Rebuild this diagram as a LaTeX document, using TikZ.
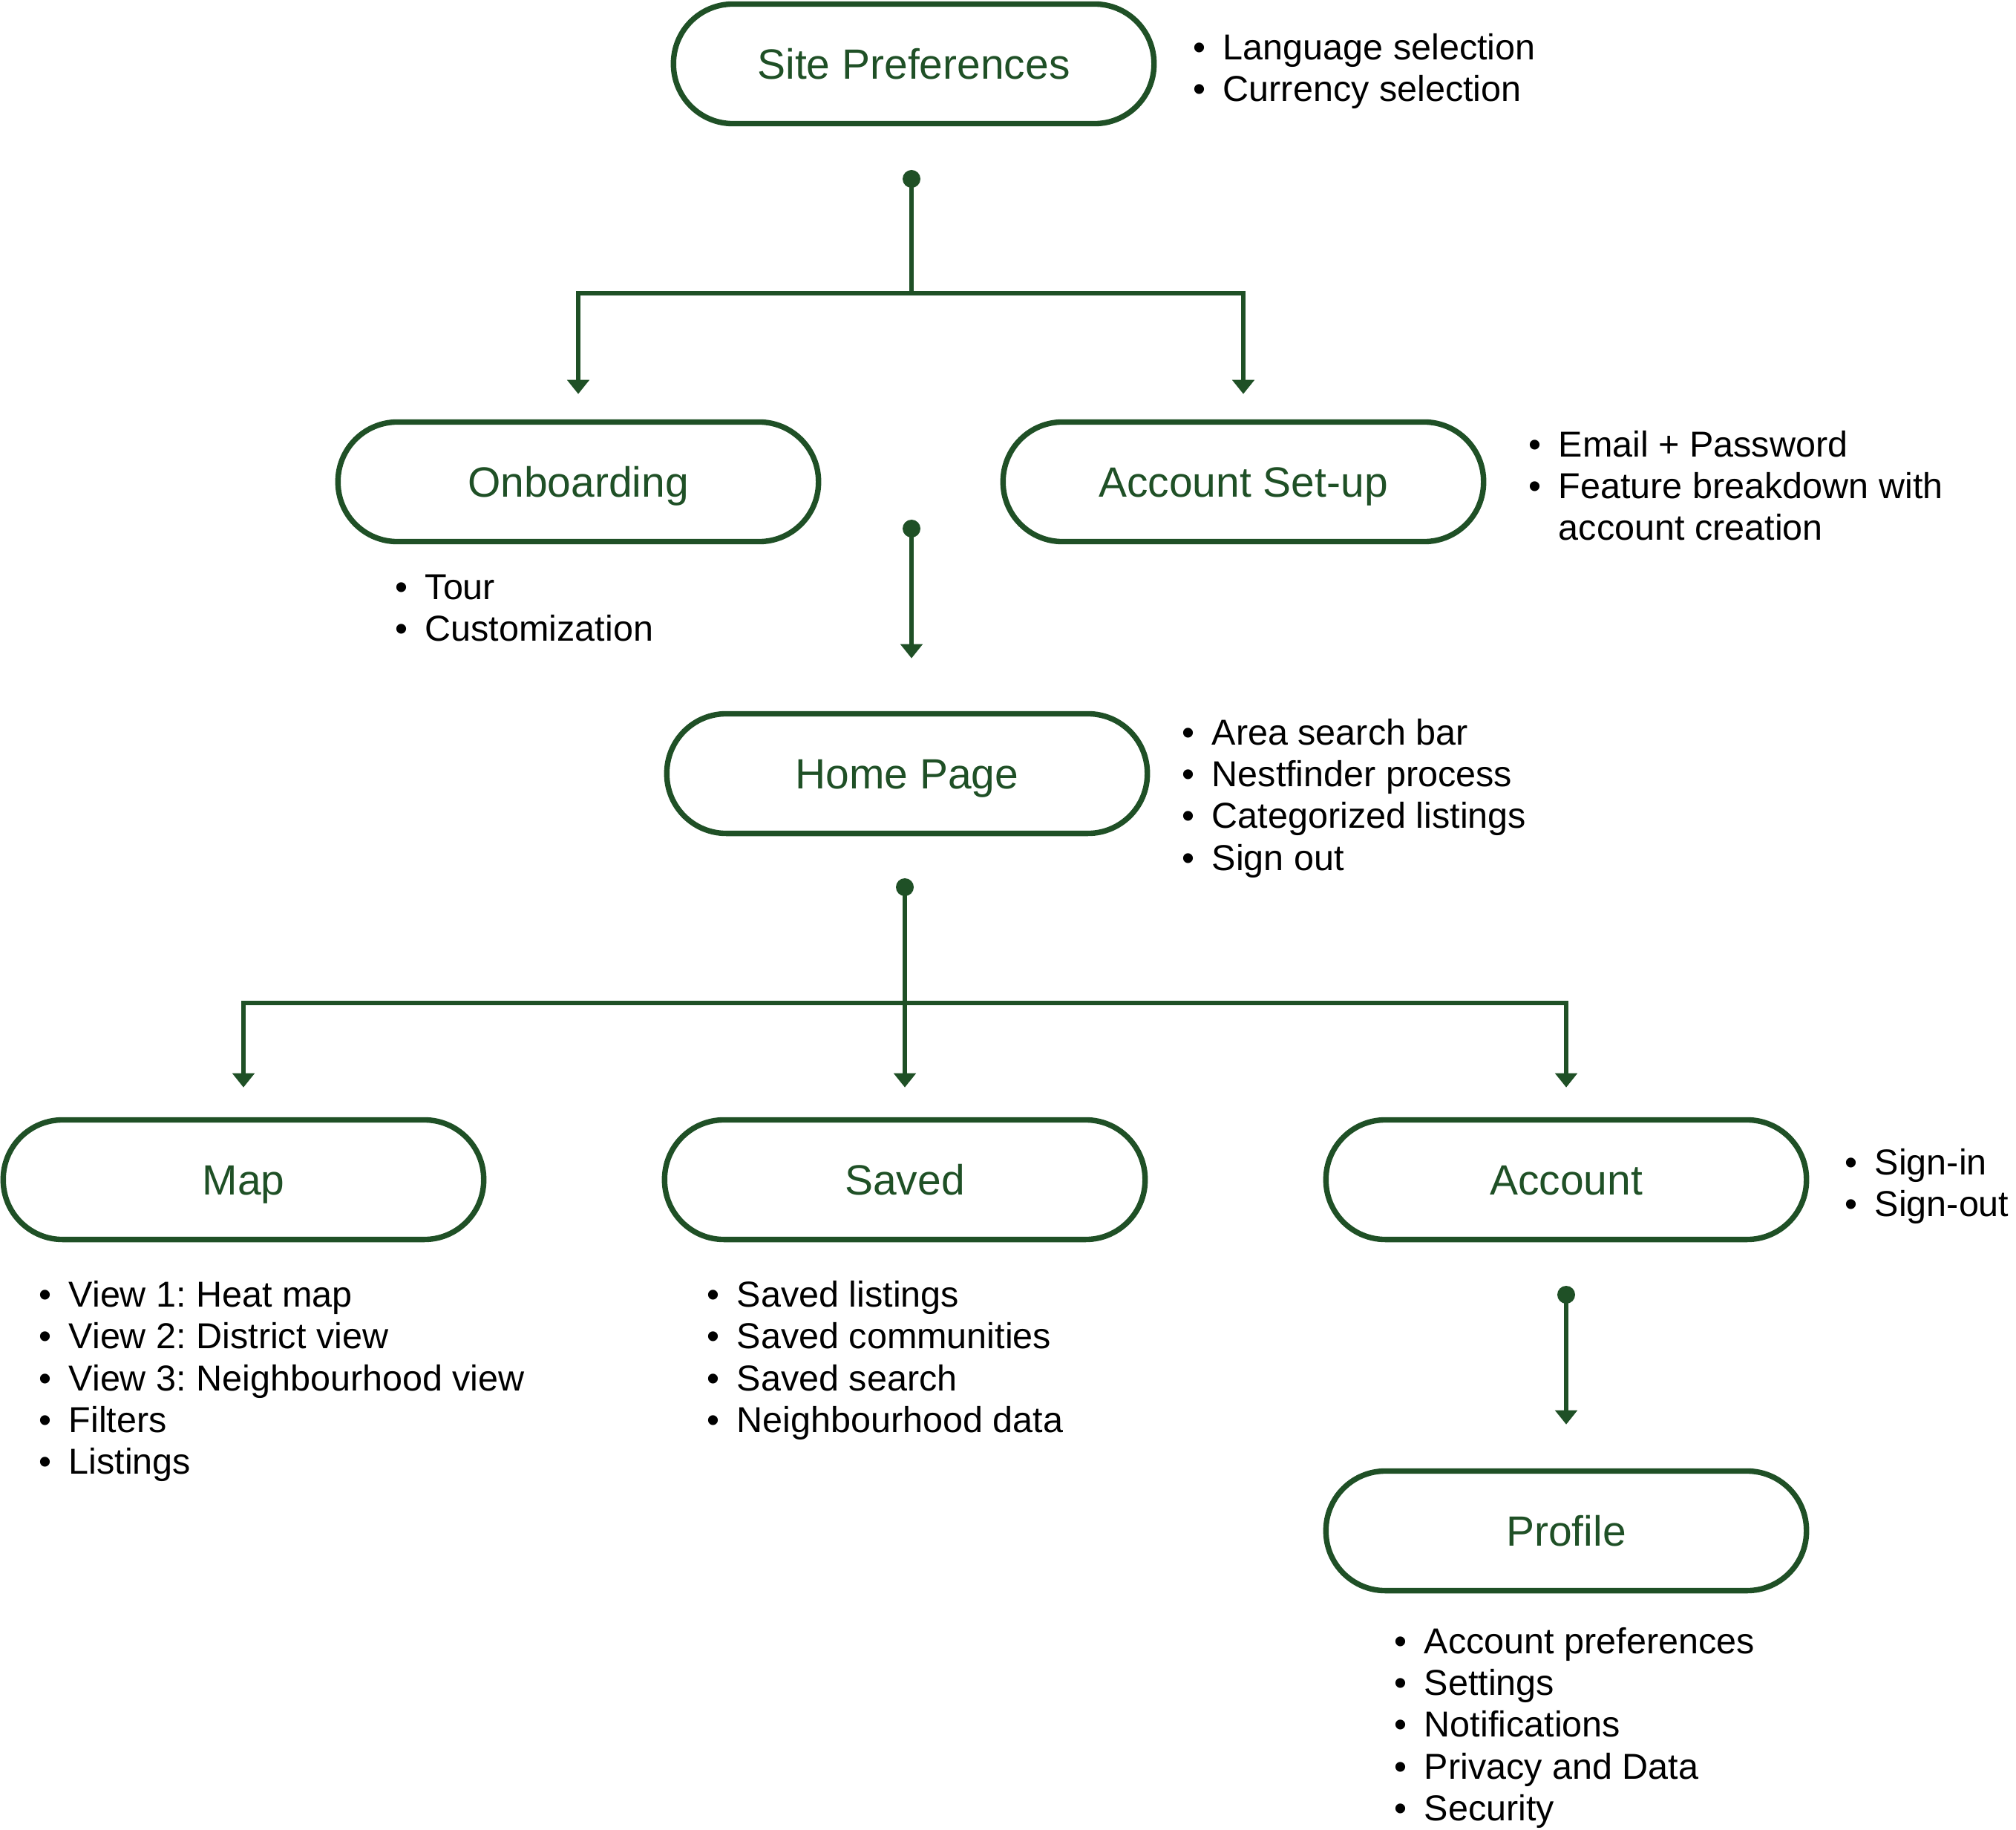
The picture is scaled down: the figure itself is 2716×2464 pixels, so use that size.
\documentclass[tikz,border=0pt]{standalone}
\usepackage{fontspec}
\setmainfont{Liberation Sans}
\usetikzlibrary{arrows.meta}
\definecolor{leaf}{HTML}{1F5026}
\frenchspacing

\tikzset{
    stage/.style={draw=leaf, line width=2.1pt, rounded corners=0.8cm,
        minimum width=6.47cm, minimum height=1.61cm, inner sep=0pt,
        text=leaf, font=\fontsize{16.2pt}{19pt}\selectfont,
        text height=11.6pt, text depth=0pt},
    notes/.style={anchor=north west, align=left, inner sep=0pt,
        font=\fontsize{13.8pt}{15.94pt}\selectfont},
    wire/.style={leaf, line width=1.85pt},
    link/.style={wire, -{Triangle[width=0.29cm,length=0.19cm]}},
}
\newcommand{\bul}{\makebox[0.4cm][l]{\textbullet}}

\begin{document}
\begin{tikzpicture}[x=0.01cm, y=-0.01cm]
    \useasboundingbox (0,0) rectangle (2716,2464);

    % stages
    \node[stage] (prefs) at (1231,86)   {Site Preferences};
    \node[stage] (onb)   at (779,649)   {Onboarding};
    \node[stage] (setup) at (1675,649)  {Account Set-up};
    \node[stage] (home)  at (1222,1042) {Home Page};
    \node[stage] (map)   at (328,1589)  {Map};
    \node[stage] (saved) at (1219,1589) {Saved};
    \node[stage] (acct)  at (2110,1589) {Account};
    \node[stage] (prof)  at (2110,2062) {Profile};

    % feature lists
    \node[notes] (prefs-notes) at (1607,45) {\bul Language selection\\ \bul Currency selection};
    \node[notes] (setup-notes) at (2059,580) {\bul Email + Password\\ \bul Feature breakdown with\\ \hspace*{0.4cm}account creation};
    \node[notes] (onb-notes) at (532,773) {\bul Tour\\ \bul Customization};
    \node[notes] (home-notes) at (1592,968) {\bul Area search bar\\ \bul Nestfinder process\\ \bul Categorized listings\\ \bul Sign out};
    \node[notes] (map-notes) at (52,1725) {\bul View 1: Heat map\\ \bul View 2: District view\\ \bul View 3: Neighbourhood view\\ \bul Filters\\ \bul Listings};
    \node[notes] (saved-notes) at (952,1725) {\bul Saved listings\\ \bul Saved communities\\ \bul Saved search\\ \bul Neighbourhood data};
    \node[notes] (acct-notes) at (2485,1547) {\bul Sign-in\\ \bul Sign-out};
    \node[notes] (prof-notes) at (1878,2192) {\bul Account preferences\\ \bul Settings\\ \bul Notifications\\ \bul Privacy and Data\\ \bul Security};

    % junctions
    \coordinate (prefs-dot) at (1228,241);
    \coordinate (prefs-bar) at (1228,395);
    \coordinate (setup-dot) at (1228,712);
    \coordinate (home-dot)  at (1219,1195);
    \coordinate (home-bar)  at (1219,1351);
    \coordinate (acct-dot)  at (2110,1744);
    \foreach \d in {prefs-dot, setup-dot, home-dot, acct-dot}
        \fill[leaf] (\d) circle[radius=0.12cm];

    % connectors
    \draw[wire] (prefs-dot) -- (prefs-bar);
    \draw[link, shorten >=0.34cm] (prefs-bar) -| (onb.north);
    \draw[link, shorten >=0.34cm] (prefs-bar) -| (setup.north);
    \draw[link, shorten >=0.71cm] (setup-dot) -- (setup-dot |- home.north);
    \draw[link, shorten >=0.40cm] (home-dot) -- (saved.north);
    \draw[link, shorten >=0.40cm] (home-bar) -| (map.north);
    \draw[link, shorten >=0.40cm] (home-bar) -| (acct.north);
    \draw[link, shorten >=0.59cm] (acct-dot) -- (prof.north);
\end{tikzpicture}
\end{document}
